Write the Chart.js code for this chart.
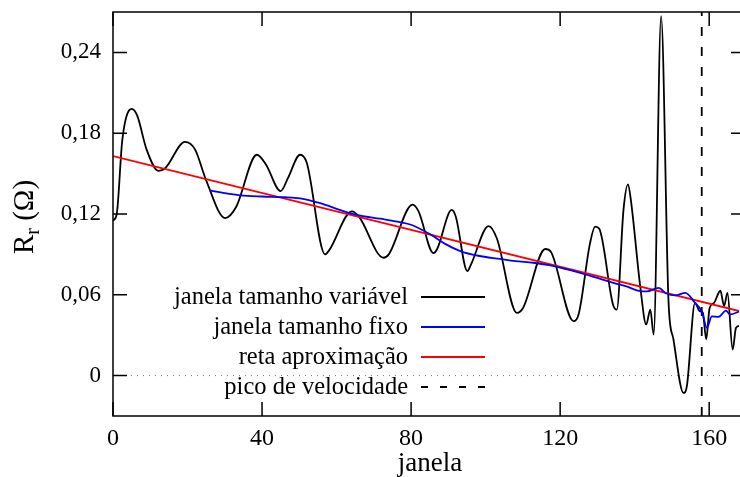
<!DOCTYPE html>
<html>
<head>
<meta charset="utf-8">
<script src="https://cdn.jsdelivr.net/npm/chart.js@4.4.1/dist/chart.umd.min.js"></script>
<style>
  html, body { margin: 0; padding: 0; background: #fff; }
</style>
</head>
<body>
<canvas id="chart" width="740" height="477"></canvas>
<script>
// janela tamanho variável
const blackX = [0, 1, 2.5, 5, 6.5, 9, 12.2, 14, 19.3, 22, 25, 30.1, 33, 38.6, 41, 45, 47, 50.2, 52, 56.9, 58,
  64.1, 66, 72.6, 74, 80.4, 82, 86, 87, 90.9, 92, 95.1, 96, 100.8, 103, 108.4, 110, 116, 117.5, 123.6, 125,
  128, 129.4, 130.5, 134.2, 135.2, 137, 138.2, 139, 141.5, 143.1, 144.2, 145.1, 147.1, 149.1, 150.4, 153.1,
  154, 156.2, 157.4, 158.3, 159.2, 160.1, 161.3, 163, 164, 164.9, 166.3, 167.2, 168.3];
const blackY = [0.115, 0.12, 0.175, 0.198, 0.193, 0.168, 0.152, 0.154, 0.1735, 0.168, 0.145, 0.117, 0.125, 0.164, 0.157, 0.137, 0.147, 0.164, 0.158, 0.090, 0.093,
  0.122, 0.118, 0.0875, 0.090, 0.127, 0.122, 0.091, 0.094, 0.123, 0.118, 0.0776, 0.082, 0.111, 0.102, 0.0466, 0.050, 0.094, 0.092, 0.0404, 0.046,
  0.098, 0.1106, 0.109, 0.0527, 0.049, 0.123, 0.142, 0.130, 0.066, 0.038, 0.049, 0.0305, 0.267, 0.054, 0.027, -0.0129,
  -0.008, 0.054, 0.048, 0.0466, 0.027, 0.050, 0.054, 0.063, 0.0516, 0.0615, 0.0193, 0.0355, 0.037];

// janela tamanho fixo
const blueX = [26, 30, 34.1, 40, 46, 50.2, 55.6, 61.8, 66, 71.7, 77, 80, 85.1, 89, 93.2, 98, 103.9, 108, 112.8, 117,
  122.7, 126.3, 130, 134.3, 138, 141.5, 143.3, 146.4, 148.5, 150.9, 153.6, 156.2, 158, 159.4, 160.7, 162.5, 164.5, 165.6, 168.3];
const blueY = [0.1376, 0.1355, 0.1339, 0.133, 0.1325, 0.1316, 0.128, 0.1222, 0.119, 0.1165, 0.114, 0.112, 0.1049, 0.098, 0.0925, 0.089, 0.0866, 0.085, 0.0838, 0.082,
  0.0783, 0.0756, 0.0725, 0.0689, 0.066, 0.0627, 0.0625, 0.0652, 0.061, 0.0595, 0.0615, 0.054, 0.0478, 0.0355, 0.044, 0.0436, 0.0483, 0.0454, 0.0478];

// reta aproximação
const redX = [0, 168.3];
const redY = [0.163, 0.0478];

// pico de velocidade
const peakX = 158;

const xTicks = [0, 40, 80, 120, 160];
const yTicks = [0, 0.06, 0.12, 0.18, 0.24];
const xMin = 0, xMax = 168;
const yMin = -0.03, yMax = 0.27;

const legendLabels = ['janela tamanho variável', 'janela tamanho fixo', 'reta aproximação', 'pico de velocidade'];

function pairs(xs, ys) {
  return xs.map((x, i) => ({ x: x, y: ys[i] }));
}

const serif = '"Liberation Serif", "DejaVu Serif", serif';

const framePlugin = {
  id: 'frame',
  afterDraw(chart) {
    const ctx = chart.ctx;
    const a = chart.chartArea;
    const xs = chart.scales.x, ys = chart.scales.y;
    ctx.save();
    ctx.strokeStyle = '#000';
    ctx.lineWidth = 1.5;
    ctx.beginPath();
    ctx.moveTo(a.right + 2, a.top);
    ctx.lineTo(a.left, a.top);
    ctx.lineTo(a.left, a.bottom);
    ctx.lineTo(a.right + 2, a.bottom);
    ctx.stroke();
    // inward ticks
    ctx.beginPath();
    xTicks.forEach(v => {
      const p = xs.getPixelForValue(v);
      ctx.moveTo(p, a.bottom); ctx.lineTo(p, a.bottom - 14);
      ctx.moveTo(p, a.top); ctx.lineTo(p, a.top + 14);
    });
    yTicks.forEach(v => {
      const p = ys.getPixelForValue(v);
      ctx.moveTo(a.left, p); ctx.lineTo(a.left + 14, p);
      ctx.moveTo(a.right + 1, p); ctx.lineTo(a.right - 8, p);
    });
    ctx.stroke();

    // legend
    ctx.font = '24.5px ' + serif;
    ctx.fillStyle = '#000';
    ctx.textAlign = 'right';
    ctx.textBaseline = 'middle';
    const rowsY = [298, 328, 358, 388];
    const styles = [
      { c: '#000000', d: [] },
      { c: '#0000ff', d: [] },
      { c: '#ff0000', d: [] },
      { c: '#000000', d: [7, 12] }
    ];
    legendLabels.forEach((t, i) => {
      ctx.fillText(t, 408, rowsY[i]);
      ctx.strokeStyle = styles[i].c;
      ctx.lineWidth = 1.8;
      ctx.setLineDash(styles[i].d);
      ctx.beginPath();
      ctx.moveTo(421, rowsY[i] - 1);
      ctx.lineTo(485, rowsY[i] - 1);
      ctx.stroke();
    });
    ctx.setLineDash([]);

    // axis titles
    ctx.textAlign = 'center';
    ctx.textBaseline = 'alphabetic';
    ctx.font = '27px ' + serif;
    ctx.fillText('janela', 430, 471);

    ctx.translate(33, 217);
    ctx.rotate(-Math.PI / 2);
    ctx.textAlign = 'left';
    const bigFont = '29px ' + serif, smallFont = '20px ' + serif;
    ctx.font = bigFont;
    const wR = ctx.measureText('R').width;
    const wRest = ctx.measureText(' (Ω)').width;
    ctx.font = smallFont;
    const wr = ctx.measureText('r').width;
    let x0 = -(wR + wr + wRest) / 2;
    ctx.font = bigFont;
    ctx.fillText('R', x0, 0);
    ctx.font = smallFont;
    ctx.fillText('r', x0 + wR, 6);
    ctx.font = bigFont;
    ctx.fillText(' (Ω)', x0 + wR + wr, 0);
    ctx.restore();
  }
};

new Chart(document.getElementById('chart'), {
  type: 'line',
  data: {
    datasets: [
      {
        label: legendLabels[0],
        data: pairs(blackX, blackY),
        borderColor: '#000000',
        borderWidth: 1.8,
        cubicInterpolationMode: 'monotone',
        pointRadius: 0,
        order: 1
      },
      {
        label: legendLabels[1],
        data: pairs(blueX, blueY),
        borderColor: '#0000ff',
        borderWidth: 1.8,
        cubicInterpolationMode: 'monotone',
        pointRadius: 0,
        order: 0
      },
      {
        label: legendLabels[2],
        data: pairs(redX, redY),
        borderColor: '#ff0000',
        borderWidth: 1.8,
        pointRadius: 0,
        order: 0
      },
      {
        label: legendLabels[3],
        data: [{ x: peakX, y: yMin }, { x: peakX, y: yMax }],
        borderColor: '#000000',
        borderWidth: 1.8,
        borderDash: [9, 11],
        pointRadius: 0,
        order: 2
      },
      {
        label: 'zero',
        data: [{ x: xMin, y: 0 }, { x: xMax, y: 0 }],
        borderColor: '#777777',
        borderWidth: 1,
        borderDash: [1, 5],
        pointRadius: 0,
        order: 3
      }
    ]
  },
  options: {
    responsive: false,
    animation: false,
    layout: { padding: { top: 12, right: 1, left: 0, bottom: 0 } },
    plugins: { legend: { display: false }, tooltip: { enabled: false } },
    scales: {
      x: {
        type: 'linear',
        min: xMin,
        max: xMax,
        grid: { display: false, drawTicks: false },
        border: { display: false },
        afterBuildTicks: s => { s.ticks = xTicks.map(v => ({ value: v })); },
        afterFit: s => { s.height = 61; s.paddingLeft = 0; s.paddingRight = 0; },
        ticks: {
          color: '#000',
          font: { family: serif, size: 24 },
          padding: 8,
          maxRotation: 0
        }
      },
      y: {
        type: 'linear',
        min: yMin,
        max: yMax,
        grid: { display: false, drawTicks: false },
        border: { display: false },
        afterBuildTicks: s => { s.ticks = yTicks.map(v => ({ value: v })); },
        afterFit: s => { s.width = 113; s.paddingTop = 0; s.paddingBottom = 0; },
        ticks: {
          color: '#000',
          font: { family: serif, size: 23 },
          padding: 12,
          callback: v => v === 0 ? '0' : v.toFixed(2).replace('.', ',')
        }
      }
    }
  },
  plugins: [framePlugin]
});
</script>
</body>
</html>
